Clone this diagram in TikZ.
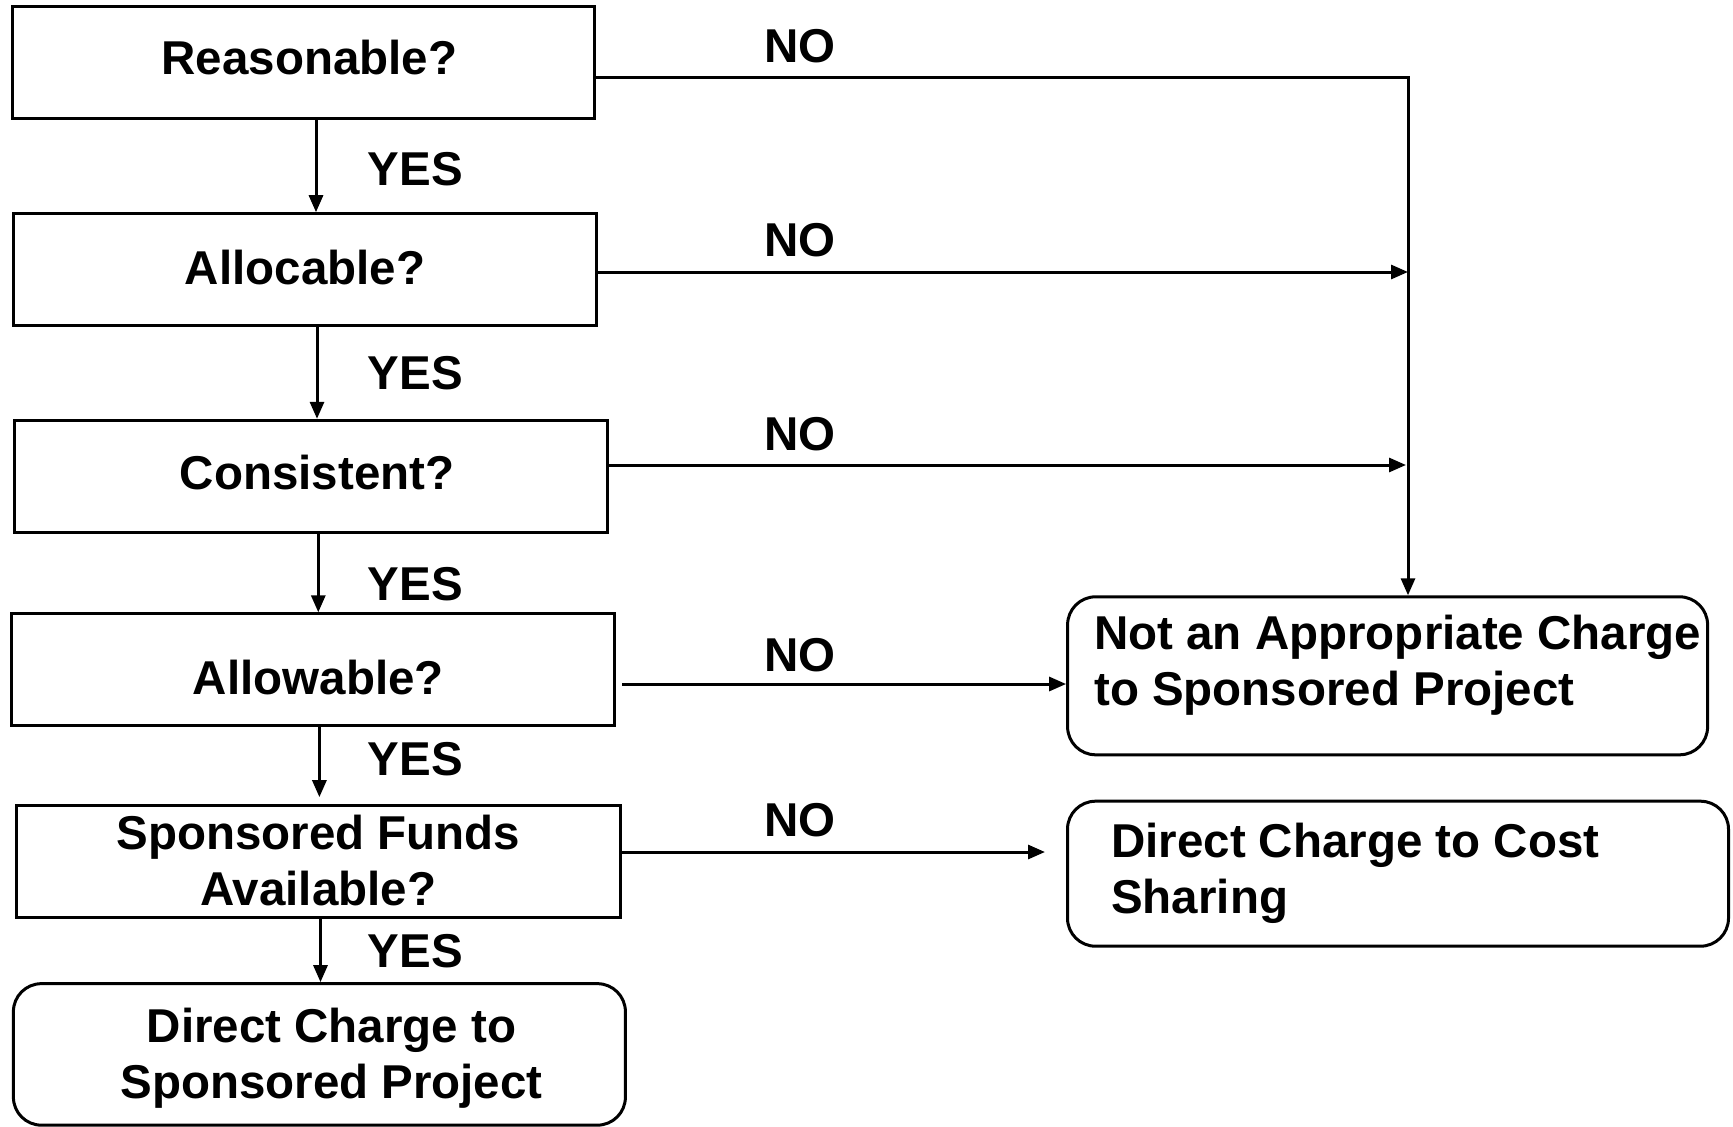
\documentclass[tikz,border=0pt]{standalone}
\usepackage{fontspec}
\setmainfont{Liberation Sans}
\usetikzlibrary{arrows.meta}
\newcommand{\txtfont}{\bfseries\fontsize{47.5}{56}\selectfont}
\begin{document}
\begin{tikzpicture}[x=1pt,y=-1pt,
  qbox/.style={draw, line width=3pt, minimum height=112pt, inner sep=0pt},
  rbox/.style={draw, line width=3pt, rounded corners=28pt, inner sep=0pt},
  lbl/.style={font=\txtfont, inner sep=0pt, align=center},
  conn/.style={line width=3pt, -{Triangle[length=17pt,width=14pt]}}]
\useasboundingbox (0,0) rectangle (1733,1127);

% decision boxes
\node[qbox, minimum width=582pt] (q1) at (303.4,62.4) {};
\node[lbl] (q1t) at (309.5,57.5) {Reasonable?};
\node[qbox, minimum width=583.5pt] (q2) at (305,269.7) {};
\node[lbl] (q2t) at (305,267.5) {Allocable?};
\node[qbox, minimum width=593.5pt] (q3) at (311.2,476.3) {};
\node[lbl] (q3t) at (317.2,473) {Consistent?};
\node[qbox, minimum width=603.5pt] (q4) at (312.8,669.8) {};
\node[lbl] (q4t) at (318.3,678) {Allowable?};
\node[qbox, minimum width=603.4pt, minimum height=111.6pt] (q5) at (318.3,861.5) {};
\node[lbl] (q5t) at (318.3,861) {Sponsored Funds\\Available?};

% outcome boxes
\node[rbox, minimum width=612pt, minimum height=141.5pt] (e1) at (319.4,1054.4) {};
\node[lbl] (e1t) at (331.5,1058) {Direct Charge to\\Sponsored Project};
\node[rbox, minimum width=640pt, minimum height=158pt] (e2) at (1387.6,675.8) {};
\node[lbl, anchor=west, align=left] (e2t) at (1094,665) {Not an Appropriate Charge\\to Sponsored Project};
\node[rbox, minimum width=661pt, minimum height=145pt] (e3) at (1398,873.7) {};
\node[lbl, anchor=west, align=left] (e3t) at (1111,873) {Direct Charge to Cost\\Sharing};

% helper coordinates
\coordinate (y1) at (316,0);
\coordinate (y2) at (317,0);
\coordinate (y3) at (318.3,0);
\coordinate (y4) at (319.4,0);
\coordinate (y5) at (320.5,0);
\coordinate (cor) at (1408,77);
\coordinate (n2) at (0,272);
\coordinate (n3) at (0,465);
\coordinate (n4) at (0,684);
\coordinate (n5) at (0,852);

% YES connectors
\draw[conn] (q1.south -| y1) -- (q2.north -| y1);
\draw[conn] (q2.south -| y2) -- (q3.north -| y2);
\draw[conn] (q3.south -| y3) -- (q4.north -| y3);
\draw[conn, shorten >=7pt] (q4.south -| y4) -- (q5.north -| y4);
\draw[conn] (q5.south -| y5) -- (e1.north -| y5);

% NO connectors
\draw[conn] (q1.east |- cor) -- (cor) -- (e2.north -| cor);
\draw[conn] (q2.east |- n2) -- (cor |- n2);
\draw[conn] (q3.east |- n3) -- ([xshift=-2pt]cor |- n3);
\draw[conn, shorten <=6pt] (q4.east |- n4) -- (e2.west |- n4);
\draw[conn, shorten >=21pt] (q5.east |- n5) -- (e3.west |- n5);

% labels
\node[lbl] (ly1) at (415.5,169) {YES};
\node[lbl] (ly2) at (415.5,373.5) {YES};
\node[lbl] (ly3) at (415.5,584.6) {YES};
\node[lbl] (ly4) at (415.5,759) {YES};
\node[lbl] (ly5) at (415.5,951.6) {YES};
\node[lbl] (ln1) at (800,46.4) {NO};
\node[lbl] (ln2) at (800,239.8) {NO};
\node[lbl] (ln3) at (800,434.3) {NO};
\node[lbl] (ln4) at (800,655.4) {NO};
\node[lbl] (ln5) at (800,820) {NO};
\end{tikzpicture}
\end{document}
